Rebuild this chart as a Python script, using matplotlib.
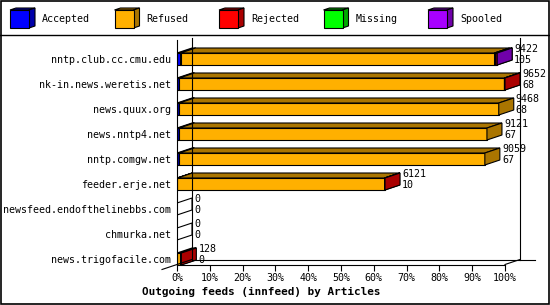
import matplotlib
matplotlib.use("Agg")
import matplotlib.pyplot as plt
from matplotlib.patches import Polygon, Rectangle
import numpy as np

hosts = ["nntp.club.cc.cmu.edu", "nk-in.news.weretis.net", "news.quux.org",
         "news.nntp4.net", "nntp.comgw.net", "feeder.erje.net",
         "newsfeed.endofthelinebbs.com", "chmurka.net", "news.trigofacile.com"]
offered = [9422, 9652, 9468, 9121, 9059, 6121, 0, 0, 128]
accepted = [105, 68, 68, 67, 67, 10, 0, 0, 0]
refused = [9239, 9569, 9400, 9054, 8992, 6099, 0, 0, 103]
rejected = [75, 15, 0, 0, 0, 12, 0, 0, 25]
missing = [0, 0, 0, 0, 0, 0, 0, 0, 0]
spooled = [3, 0, 0, 0, 0, 0, 0, 0, 0]

series = ["Accepted", "Refused", "Rejected", "Missing", "Spooled"]
colors = ["#0000ff", "#ffb000", "#ff0000", "#00ff00", "#a800ff"]
dark = ["#0000aa", "#aa7500", "#aa0000", "#00aa00", "#7000aa"]
ticks = [f"{p}%" for p in range(0, 101, 10)]
title = "Outgoing feeds (innfeed) by Articles"

W, H = 550, 305
FONT = "DejaVu Sans Mono"
FS = 7.2

# pixel geometry of the plot box
PX_PCT = 3.28          # pixels per percent
ROW = 25.0             # pixels per row
X0, XR = 177, 520      # left / right of axes (px)
YT, YB = 40, 264.5     # top / bottom of axes (px)
DX = 15 / PX_PCT       # 3d depth in data units
DY = 5 / ROW
HALF = 6 / ROW

fig = plt.figure(figsize=(W / 100, H / 100), dpi=100)
fig.patch.set_facecolor("white")

# background axes in pixels: border + legend
bg = fig.add_axes([0, 0, 1, 1])
bg.set_xlim(0, W)
bg.set_ylim(H, 0)
bg.axis("off")
bg.add_patch(Rectangle((0.5, 0.5), W - 1.5, H - 1.5, fill=False, lw=1.2, ec="black"))
bg.plot([0, W], [35, 35], color="black", lw=1.0)
for i, name in enumerate(series):
    lx = 10 + 104.5 * i
    bg.add_patch(Polygon([(lx, 10), (lx + 6, 8), (lx + 25, 8), (lx + 19, 10)],
                         fc=dark[i], ec="black", lw=0.8))
    bg.add_patch(Polygon([(lx + 19, 10), (lx + 25, 8), (lx + 25, 26), (lx + 19, 28)],
                         fc=dark[i], ec="black", lw=0.8))
    bg.add_patch(Rectangle((lx, 10), 19, 18, fc=colors[i], ec="black", lw=0.8))
    bg.text(lx + 32, 19.5, name, fontsize=FS, family=FONT, va="center", ha="left")
bg.text(261, 292, title, fontsize=7.9, family=FONT, weight="bold", va="center", ha="center")

ax = fig.add_axes([X0 / W, 1 - YB / H, (XR - X0) / W, (YB - YT) / H])
ax.set_facecolor("none")
top_row = (YT - 59) / ROW
bot_row = (YB - 59) / ROW
ax.set_xlim(0, (XR - X0) / PX_PCT)
ax.set_ylim(bot_row, top_row)
for s in ax.spines.values():
    s.set_visible(False)

kw = dict(color="black", lw=0.8, clip_on=False)
ax.plot([0, 0], [top_row, bot_row], **kw)
ax.plot([DX, DX], [top_row - 0.1, bot_row - DY], **kw)
ax.plot([100 + DX, 100 + DX], [top_row - 0.1, bot_row - DY], **kw)
ax.plot([0, 100], [bot_row, bot_row], **kw)
ax.plot([DX, 100 + 2 * DX], [bot_row - DY, bot_row - DY], **kw)
ax.plot([-DX, DX], [bot_row + DY, bot_row - DY], **kw)
ax.plot([100, 100 + DX], [bot_row, bot_row - DY], **kw)

ax.set_xticks(range(0, 101, 10))
ax.set_xticklabels(ticks, fontsize=FS, family=FONT)
ax.tick_params(axis="x", length=4, width=0.8, pad=2)
ax.set_yticks(range(len(hosts)))
ax.set_yticklabels(hosts, fontsize=FS, family=FONT)
ax.tick_params(axis="y", length=0, pad=4)

data = np.array([accepted, refused, rejected, missing, spooled], dtype=float)
scale = 100.0 / max(offered)

for r in range(len(hosts)):
    top, bot = r - HALF, r + HALF
    left = 0.0
    drawn = False
    for k in range(len(series)):
        w = data[k, r] * scale
        if w <= 0:
            continue
        right = left + w
        ax.add_patch(Rectangle((left, top), w, 2 * HALF, fc=colors[k], ec="black", lw=0.8))
        ax.add_patch(Polygon([(left, top), (right, top), (right + DX, top - DY), (left + DX, top - DY)],
                             fc=dark[k], ec="black", lw=0.8))
        ax.add_patch(Polygon([(right, top), (right + DX, top - DY), (right + DX, bot - DY), (right, bot)],
                             fc=dark[k], ec="black", lw=0.8))
        left = right
        drawn = True
    if not drawn:
        ax.add_patch(Polygon([(0, top), (DX, top - DY), (DX, bot - DY), (0, bot)],
                             fill=False, ec="black", lw=0.8))
    end = offered[r] * scale + DX
    ax.annotate(str(offered[r]), xy=(end, r), xytext=(1.5, 7.2), textcoords="offset points",
                fontsize=FS, family=FONT, va="center", ha="left")
    ax.annotate(str(accepted[r]), xy=(end, r), xytext=(1.5, -0.9), textcoords="offset points",
                fontsize=FS, family=FONT, va="center", ha="left")

fig.savefig("out.png", dpi=100, facecolor="white")
